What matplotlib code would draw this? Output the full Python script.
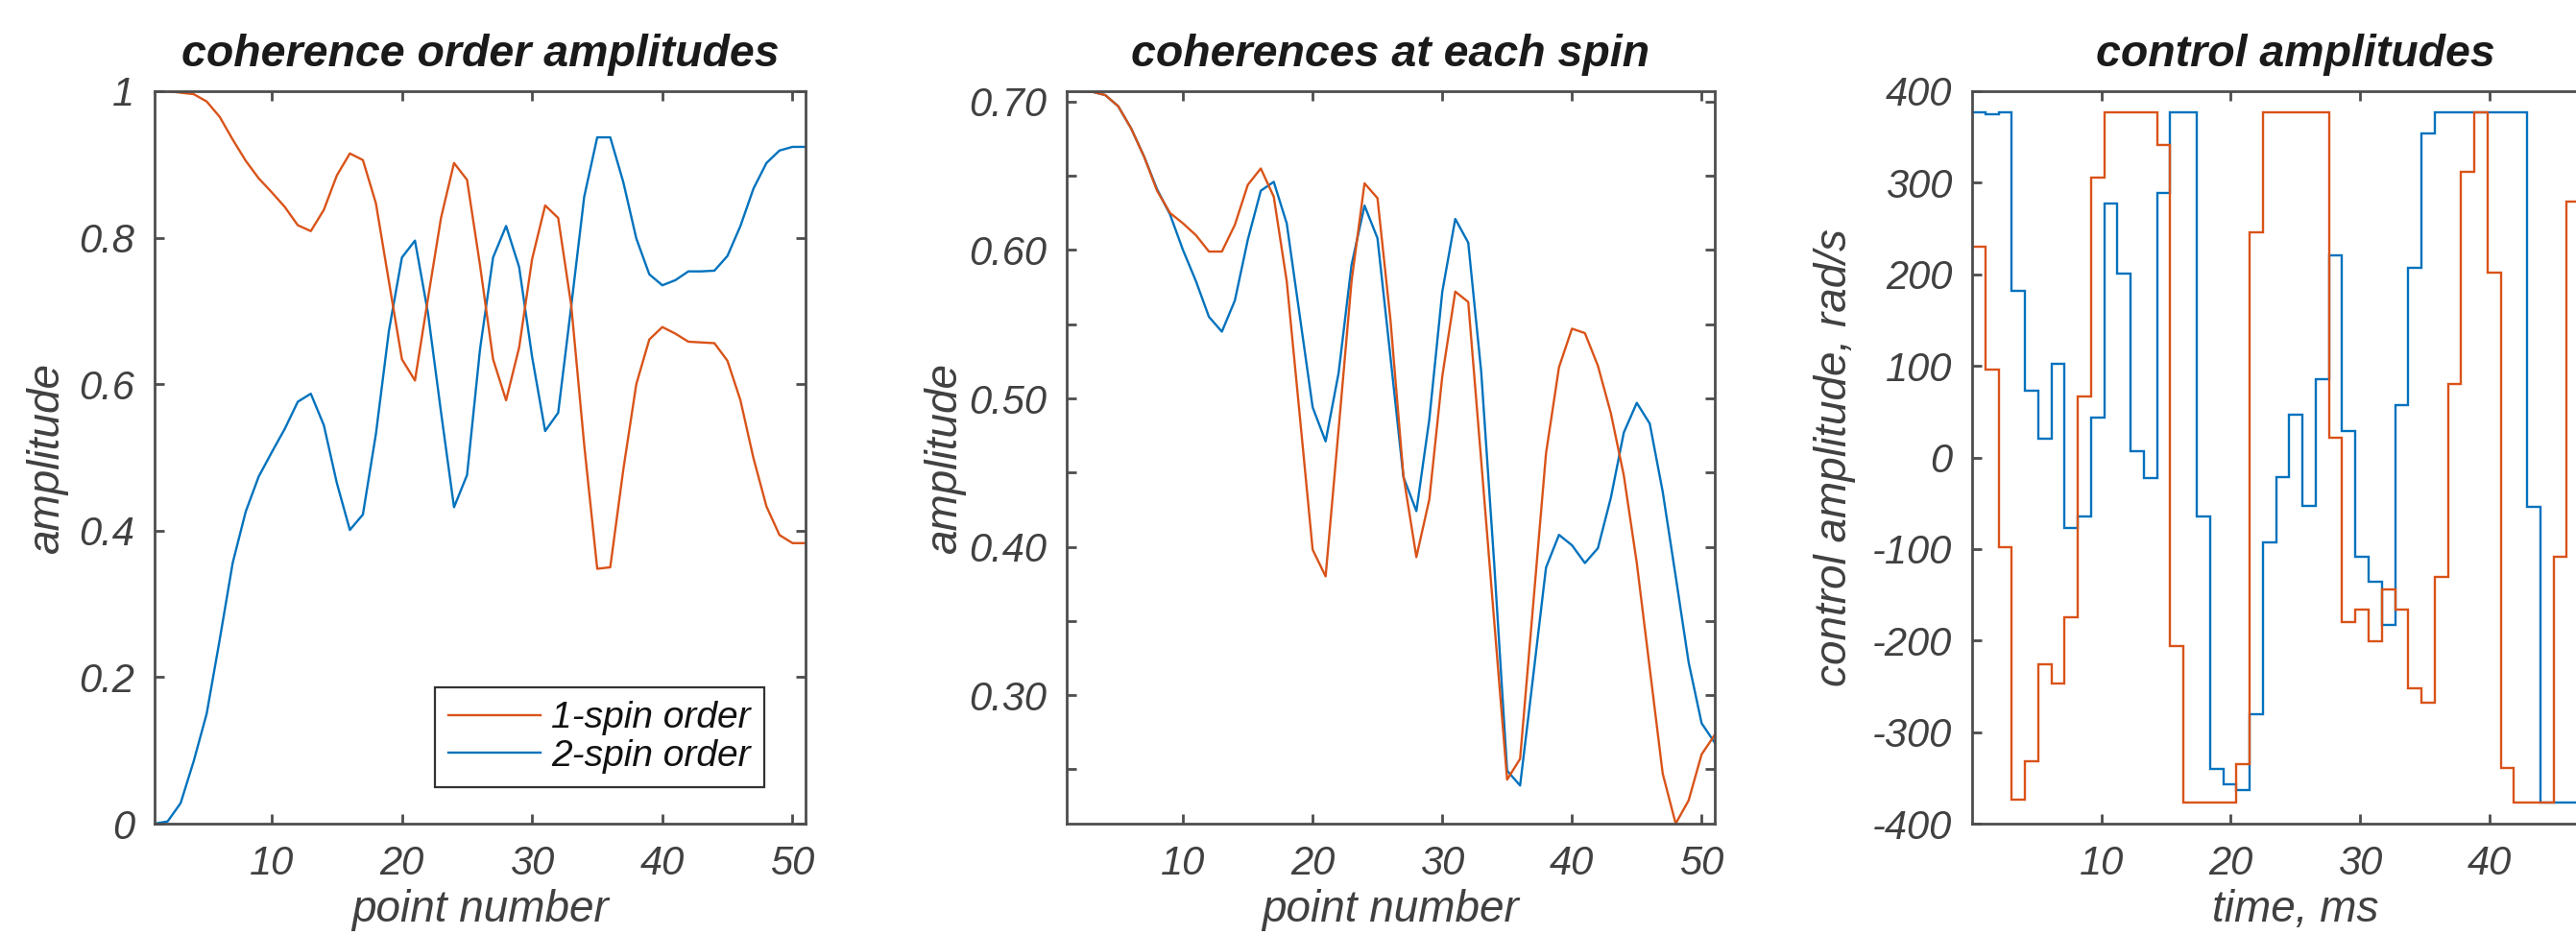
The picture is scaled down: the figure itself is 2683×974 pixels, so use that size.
import numpy as np
import matplotlib
matplotlib.use('Agg')
import matplotlib.pyplot as plt
from matplotlib.ticker import FixedLocator, FixedFormatter

plt.rcParams['font.family'] = ['Liberation Sans', 'DejaVu Sans']
plt.rcParams['font.style'] = 'italic'
plt.rcParams['axes.unicode_minus'] = False

blue = '#0072BD'
red = '#D95319'
axcol = '#4d4d4d'
txtcol = '#404040'

# ---------------- data ----------------
points = np.arange(1, 52)

one_spin = [1.000, 1.000, 0.998, 0.996, 0.986, 0.965, 0.934, 0.905, 0.881, 0.862,
            0.842, 0.817, 0.809, 0.838, 0.885, 0.915, 0.906, 0.847, 0.740, 0.634,
            0.605, 0.717, 0.827, 0.902, 0.879, 0.762, 0.634, 0.578, 0.650, 0.771,
            0.844, 0.827, 0.708, 0.517, 0.348, 0.350, 0.483, 0.600, 0.661, 0.678,
            0.669, 0.658, 0.657, 0.656, 0.632, 0.578, 0.499, 0.433, 0.394, 0.383, 0.383]
two_spin = [0.000, 0.003, 0.028, 0.085, 0.150, 0.251, 0.356, 0.426, 0.474, 0.507,
            0.539, 0.576, 0.587, 0.544, 0.465, 0.401, 0.422, 0.532, 0.673, 0.773,
            0.796, 0.697, 0.562, 0.432, 0.476, 0.648, 0.773, 0.816, 0.760, 0.637,
            0.536, 0.561, 0.706, 0.856, 0.937, 0.937, 0.876, 0.799, 0.750, 0.735,
            0.742, 0.754, 0.754, 0.755, 0.775, 0.816, 0.867, 0.902, 0.919, 0.924, 0.924]

spin_a = [0.7071, 0.7071, 0.7067, 0.7045, 0.697, 0.682, 0.663, 0.640, 0.625, 0.618,
          0.610, 0.599, 0.599, 0.617, 0.644, 0.655, 0.636, 0.579, 0.489, 0.398,
          0.380, 0.479, 0.579, 0.645, 0.635, 0.553, 0.448, 0.393, 0.432, 0.515,
          0.572, 0.565, 0.458, 0.350, 0.243, 0.257, 0.360, 0.463, 0.521, 0.547,
          0.544, 0.522, 0.490, 0.448, 0.389, 0.318, 0.247, 0.2133, 0.229, 0.260, 0.273]
spin_b = [0.7071, 0.7071, 0.7067, 0.7045, 0.697, 0.682, 0.663, 0.641, 0.624, 0.600,
          0.579, 0.555, 0.545, 0.566, 0.607, 0.640, 0.646, 0.618, 0.556, 0.494,
          0.471, 0.517, 0.590, 0.630, 0.608, 0.528, 0.447, 0.424, 0.486, 0.572,
          0.621, 0.605, 0.518, 0.389, 0.249, 0.239, 0.312, 0.386, 0.408, 0.401,
          0.389, 0.399, 0.433, 0.477, 0.497, 0.483, 0.437, 0.380, 0.322, 0.281, 0.268]

dt = 1.022  # ms per control slice
ctrl_x = [230, 96, -98, -374, -332, -226, -247, -175, 67, 306,
          377, 377, 377, 377, 341, -206, -377, -377, -377, -377,
          -335, 246, 377, 377, 377, 377, 377, 22, -180, -166,
          -201, -144, -166, -252, -268, -131, 80, 312, 377, 202,
          -339, -377, -377, -377, -108, 279, 377, 377, 300, 150]
ctrl_y = [377, 375, 377, 182, 73, 20, 102, -77, -64, 43,
          277, 201, 7, -23, 289, 377, 377, -64, -340, -357,
          -363, -280, -93, -22, 47, -53, 85, 221, 29, -108,
          -136, -183, 57, 207, 354, 377, 377, 377, 377, 377,
          377, 377, -54, -377, -377, -377, -377, -200, 0, 100]

p2_ticks = [0.25, 0.30, 0.35, 0.40, 0.45, 0.50, 0.55, 0.60, 0.65, 0.70]
p2_labels = ['', '0.30', '', '0.40', '', '0.50', '', '0.60', '', '0.70']

# ---------------- figure ----------------
W, H = 2683, 974
fig = plt.figure(figsize=(W / 100, H / 100), dpi=100)


def px_axes(left, right, top, bottom):
    return fig.add_axes([left / W, 1 - bottom / H, (right - left) / W, (bottom - top) / H])


def style(ax, title, xlabel, ylabel, ylab_x):
    for s in ax.spines.values():
        s.set_color(axcol)
        s.set_linewidth(2.0)
    ax.tick_params(direction='in', length=7, width=2.0, colors=axcol,
                   labelcolor=txtcol, labelsize=30, top=True, right=True)
    ax.tick_params(axis='x', pad=16)
    ax.tick_params(axis='y', pad=15)
    ax.set_title(title, fontsize=33.5, fontweight='bold', color='#1a1a1a', pad=19)
    ax.set_xlabel(xlabel, fontsize=33, color=txtcol)
    ax.set_ylabel(ylabel, fontsize=33, color=txtcol)
    ax.xaxis.set_label_coords(0.5, -0.089)
    ax.yaxis.set_label_coords(ylab_x, 0.5)


# panel 1
ax1 = px_axes(161, 839, 95, 858)
l2, = ax1.plot(points, two_spin, color=blue, lw=1.7)
l1, = ax1.plot(points, one_spin, color=red, lw=1.7)
ax1.set_xlim(1, 51)
ax1.set_ylim(0, 1)
ax1.set_xticks([10, 20, 30, 40, 50])
ax1.set_yticks([0, 0.2, 0.4, 0.6, 0.8, 1])
ax1.set_yticklabels(['0', '0.2', '0.4', '0.6', '0.8', '1'])
style(ax1, 'coherence order amplitudes', 'point number', 'amplitude', -0.133)
leg = ax1.legend([l1, l2], ['1-spin order', '2-spin order'], loc='lower right',
                 bbox_to_anchor=(0.9366, 0.0498), borderaxespad=0, fontsize=28,
                 handlelength=2.45, handletextpad=0.3, borderpad=0.36, labelspacing=0.1,
                 fancybox=False, framealpha=1)
leg.get_frame().set_edgecolor('#333333')
leg.get_frame().set_linewidth(1.6)
for t in leg.get_texts():
    t.set_color('#111111')

# panel 2
ax2 = px_axes(1110.6, 1785.8, 95, 858)
ax2.plot(points, spin_b, color=blue, lw=1.7)
ax2.plot(points, spin_a, color=red, lw=1.7)
ax2.set_xlim(1, 51)
ax2.set_ylim(min(spin_a + spin_b), max(spin_a + spin_b))
ax2.set_xticks([10, 20, 30, 40, 50])
ax2.yaxis.set_major_locator(FixedLocator(p2_ticks))
ax2.yaxis.set_major_formatter(FixedFormatter(p2_labels))
style(ax2, 'coherences at each spin', 'point number', 'amplitude', -0.155)

# panel 3 (runs off the right edge, as in the original)
edges = dt * np.arange(len(ctrl_x) + 1)
ax3 = px_axes(2054, 2054 + 50 * 13.47, 95, 858)
ax3.stairs(ctrl_y, edges, baseline=None, color=blue, lw=1.7)
ax3.stairs(ctrl_x, edges, baseline=None, color=red, lw=1.7)
ax3.set_xlim(0, 50)
ax3.set_ylim(-400, 400)
ax3.set_xticks([10, 20, 30, 40])
ax3.set_yticks(np.arange(-400, 401, 100))
style(ax3, 'control amplitudes', 'time, ms', 'control amplitude, rad/s', -0.18)

fig.savefig('out.png', dpi=100)
